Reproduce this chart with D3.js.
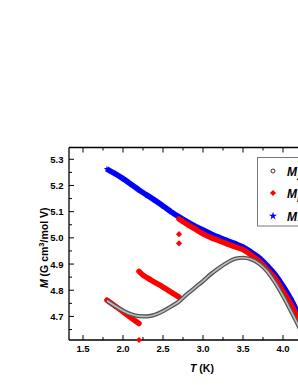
<!DOCTYPE html>
<html>
<head>
<meta charset="utf-8">
<script src="https://cdn.jsdelivr.net/npm/d3@7"></script>
<style>
  html, body { margin: 0; padding: 0; background: #fff; overflow: hidden; }
  svg { display: block; font-family: "Liberation Sans", Arial, sans-serif; }
  .tick-label { font-size: 9.5px; font-weight: bold; fill: #000; }
  .axis-title { font-size: 10.5px; font-weight: bold; fill: #000; }
</style>
</head>
<body>
<svg id="chart" width="298" height="385"></svg>
<script>
// open circles (grey band)
const circleT = [1.8, 1.9, 2.0, 2.1, 2.2, 2.3, 2.4, 2.5, 2.6, 2.7, 2.8, 2.9, 3.0, 3.1, 3.2, 3.3, 3.4, 3.5, 3.6, 3.7, 3.8, 3.9, 4.0, 4.1, 4.2, 4.3];
const circleM = [4.760, 4.740, 4.722, 4.708, 4.701, 4.700, 4.706, 4.720, 4.738, 4.757, 4.785, 4.810, 4.835, 4.862, 4.885, 4.905, 4.920, 4.924, 4.918, 4.902, 4.873, 4.830, 4.778, 4.720, 4.660, 4.595];

// red diamonds, three runs + stray points
const diamondT1 = [1.8, 1.9, 2.0, 2.1, 2.2];
const diamondM1 = [4.762, 4.740, 4.718, 4.695, 4.673];
const diamondT2 = [2.2, 2.25, 2.3, 2.4, 2.5, 2.6, 2.7];
const diamondM2 = [4.872, 4.858, 4.848, 4.830, 4.812, 4.793, 4.774];
const diamondT3 = [2.7, 2.8, 2.9, 3.0, 3.1, 3.2, 3.3, 3.4, 3.5, 3.6, 3.7, 3.8, 3.9, 4.0, 4.1, 4.2, 4.3];
const diamondM3 = [5.072, 5.052, 5.034, 5.015, 5.001, 4.989, 4.977, 4.966, 4.955, 4.935, 4.911, 4.880, 4.845, 4.795, 4.745, 4.685, 4.620];
const strayT = [2.7, 2.7, 2.2];
const strayM = [5.014, 4.979, 4.610];

// blue stars
const starT = [1.8, 1.9, 2.0, 2.1, 2.2, 2.3, 2.4, 2.5, 2.6, 2.7, 2.8, 2.9, 3.0, 3.1, 3.2, 3.3, 3.4, 3.5, 3.6, 3.7, 3.8, 3.9, 4.0, 4.1, 4.2, 4.3];
const starM = [5.263, 5.245, 5.226, 5.205, 5.183, 5.163, 5.143, 5.122, 5.100, 5.080, 5.062, 5.045, 5.030, 5.015, 5.002, 4.990, 4.978, 4.965, 4.946, 4.925, 4.895, 4.860, 4.816, 4.765, 4.705, 4.640];

const xLabels = [1.5, 2.0, 2.5, 3.0, 3.5, 4.0];
const yLabels = [4.7, 4.8, 4.9, 5.0, 5.1, 5.2, 5.3];
const legendLabels = ["ZFC", "FC", "TRM"];

const svg = d3.select("#chart");
const plotLeft = 69, plotRight = 323, plotTop = 147.5, plotBottom = 340;

const x = d3.scaleLinear().domain([1.325, 4.5]).range([plotLeft, plotRight]);
const y = d3.scaleLinear().domain([4.61, 5.345]).range([plotBottom, plotTop]);

const zip = (ts, ms) => ts.map((t, i) => ({ t, m: ms[i] }));

svg.append("clipPath").attr("id", "plot-clip")
    .append("rect").attr("x", plotLeft).attr("y", plotTop)
    .attr("width", plotRight - plotLeft).attr("height", plotBottom - plotTop);

const plot = svg.append("g").attr("clip-path", "url(#plot-clip)");
const line = d3.line().x((d) => x(d.t)).y((d) => y(d.m)).curve(d3.curveMonotoneX);

// blue stars
const stars = zip(starT, starM);
plot.append("path").datum(stars).attr("d", line)
    .attr("fill", "none").attr("stroke", "#0000ff").attr("stroke-width", 5.5);
plot.selectAll(null).data(stars).join("path")
    .attr("transform", (d) => `translate(${x(d.t)},${y(d.m)})`)
    .attr("d", d3.symbol(d3.symbolStar, 14)).attr("fill", "#0000ff");

// red diamonds
[zip(diamondT1, diamondM1), zip(diamondT2, diamondM2), zip(diamondT3, diamondM3)].forEach((seg) => {
    plot.append("path").datum(seg).attr("d", line)
        .attr("fill", "none").attr("stroke", "#ff0000").attr("stroke-width", 5.5).attr("stroke-linecap", "round");
    plot.selectAll(null).data(seg).join("path")
        .attr("transform", (d) => `translate(${x(d.t)},${y(d.m)})`)
        .attr("d", d3.symbol(d3.symbolDiamond2, 14)).attr("fill", "#ff0000");
});

// grey open circles
const circles = zip(circleT, circleM);
plot.append("path").datum(circles).attr("d", line)
    .attr("fill", "none").attr("stroke", "#555").attr("stroke-width", 4.2);
plot.append("path").datum(circles).attr("d", line)
    .attr("fill", "none").attr("stroke", "#bdbdbd").attr("stroke-width", 1.6);

// axes frame
const frame = svg.append("g").attr("stroke", "#000").attr("stroke-width", 1.3);
frame.append("line").attr("x1", plotLeft).attr("x2", plotLeft).attr("y1", plotTop).attr("y2", plotBottom);
frame.append("line").attr("x1", plotLeft).attr("x2", plotRight).attr("y1", plotBottom).attr("y2", plotBottom);
frame.append("line").attr("x1", plotLeft).attr("x2", plotRight).attr("y1", plotTop).attr("y2", plotTop);

// stray diamonds drawn over the frame
svg.selectAll(null).data(zip(strayT, strayM)).join("path")
    .attr("transform", (d) => `translate(${x(d.t)},${y(d.m)})`)
    .attr("d", d3.symbol(d3.symbolDiamond2, 24)).attr("fill", "#ff0000");

const xTicks = d3.range(1.5, 4.51, 0.25).map((v) => +v.toFixed(2));
const yTicks = d3.range(4.65, 5.345, 0.05).map((v) => +v.toFixed(2));
const isMajor = (v) => Math.abs(v * 2 - Math.round(v * 2)) < 1e-6;
const isMajorY = (v) => Math.abs(v * 10 - Math.round(v * 10)) < 1e-6;

const ticks = svg.append("g").attr("stroke", "#000").attr("stroke-width", 1);
xTicks.forEach((v) => {
    const len = isMajor(v) ? 5 : 3;
    ticks.append("line").attr("x1", x(v)).attr("x2", x(v)).attr("y1", plotBottom).attr("y2", plotBottom - len);
    ticks.append("line").attr("x1", x(v)).attr("x2", x(v)).attr("y1", plotTop).attr("y2", plotTop + len);
});
yTicks.forEach((v) => {
    const len = isMajorY(v) ? 5 : 3;
    ticks.append("line").attr("x1", plotLeft).attr("x2", plotLeft + len).attr("y1", y(v)).attr("y2", y(v));
});

// tick labels
svg.selectAll(null).data(xLabels).join("text")
    .attr("class", "tick-label").attr("text-anchor", "middle")
    .attr("x", (d) => x(d)).attr("y", 352).text((d) => d.toFixed(1));
svg.selectAll(null).data(yLabels).join("text")
    .attr("class", "tick-label").attr("text-anchor", "end")
    .attr("x", 63.5).attr("y", (d) => y(d) + 3.5).text((d) => d.toFixed(1));

// axis titles
const xt = svg.append("text").attr("class", "axis-title").attr("text-anchor", "middle")
    .attr("x", 202).attr("y", 372);
xt.append("tspan").attr("font-style", "italic").text("T");
xt.append("tspan").text(" (K)");

const yt = svg.append("text").attr("class", "axis-title").attr("text-anchor", "middle")
    .attr("transform", `translate(48,${(plotTop + plotBottom) / 2 + 4}) rotate(-90)`);
yt.append("tspan").attr("font-style", "italic").text("M");
yt.append("tspan").text(" (G cm");
yt.append("tspan").attr("dy", -4).attr("font-size", "7.5px").text("3");
yt.append("tspan").attr("dy", 4).text("/mol V)");

// legend
const legend = svg.append("g");
legend.append("rect").attr("x", 257.5).attr("y", 157.5).attr("width", 80).attr("height", 68.5)
    .attr("fill", "#fff").attr("stroke", "#777").attr("stroke-width", 1);
const rows = [171, 193, 216];
legend.append("circle").attr("cx", 273).attr("cy", rows[0]).attr("r", 2)
    .attr("fill", "#fff").attr("stroke", "#333").attr("stroke-width", 1);
legend.append("path").attr("transform", `translate(273,${rows[1]})`)
    .attr("d", d3.symbol(d3.symbolDiamond2, 24)).attr("fill", "#ff0000");
legend.append("path").attr("transform", `translate(273,${rows[2]})`)
    .attr("d", d3.symbol(d3.symbolStar, 20)).attr("fill", "#0000ff");
legendLabels.forEach((lab, i) => {
    const t = legend.append("text").attr("x", 287).attr("y", rows[i] + 4.5)
        .attr("font-size", "12px").attr("font-weight", "bold").attr("font-style", "italic");
    t.append("tspan").text("M");
    t.append("tspan").attr("dy", 4).attr("font-size", "7px").text(lab);
});
</script>
</body>
</html>
